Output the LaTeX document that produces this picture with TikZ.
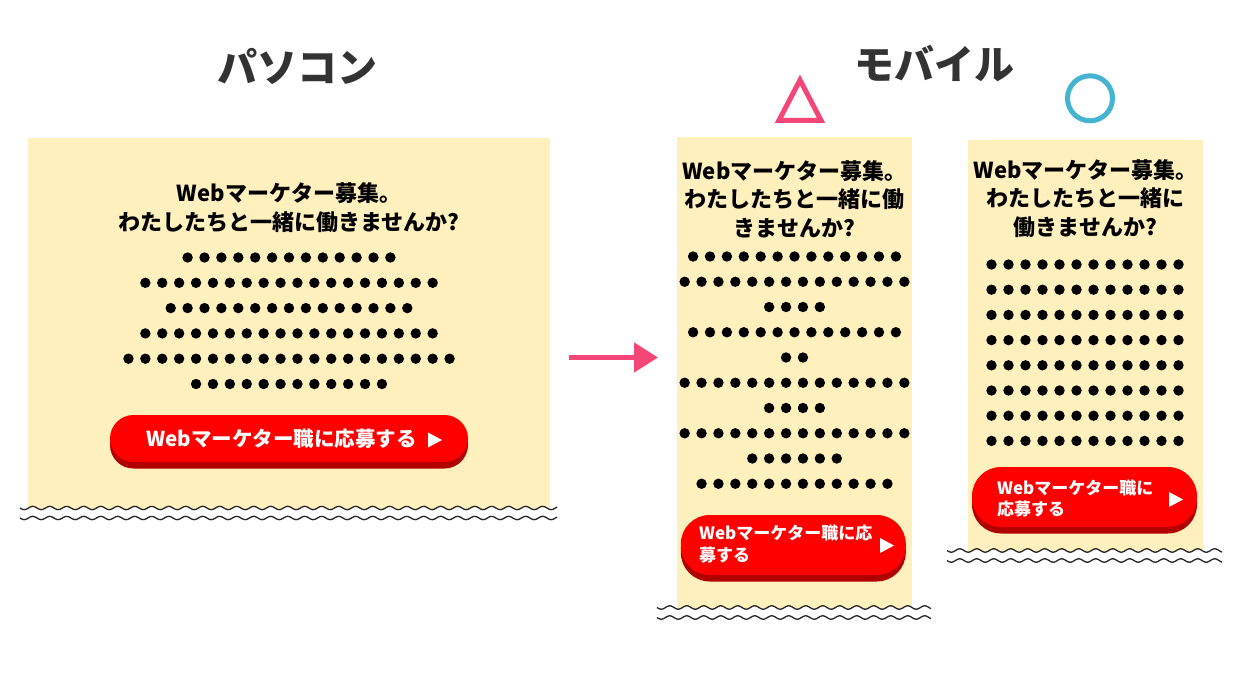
\documentclass[tikz,border=0pt]{standalone}
\usepackage{fontspec}
\setmainfont{Noto Sans CJK JP}
\usetikzlibrary{shadows,arrows.meta}
\definecolor{panel}{HTML}{FFF0BE}
\definecolor{btnred}{HTML}{FF0000}
\definecolor{btnshadow}{HTML}{B00000}
\definecolor{markpink}{HTML}{F54678}
\definecolor{markblue}{HTML}{45B4D0}
\definecolor{titlegray}{HTML}{333333}
\newcommand\wavecut[3]{%
  \fill[white] plot[domain=#1:#2, samples=260, smooth] (\x, {#3+1.7*sin((\x-#1)*21.18)}) -- (#2,{#3+22}) -- (#1,{#3+22}) -- cycle;
  \draw[wavy] plot[domain=#1:#2, samples=260, smooth] (\x, {#3+1.7*sin((\x-#1)*21.18)});
  \draw[wavy] plot[domain=#1:#2, samples=260, smooth] (\x, {#3+10+1.7*sin((\x-#1)*21.18)});
}
\begin{document}
\begin{tikzpicture}[x=1pt,y=-1pt,
  panelbox/.style={fill=panel, draw=none, inner sep=0, minimum width=#1},
  bigtitle/.style={font=\fontsize{40}{40}\selectfont\bfseries, text=titlegray, inner sep=0},
  head/.style={font=\fontsize{22}{28.5}\selectfont\bfseries, align=center, inner sep=0, text=black},
  btn/.style={fill=btnred, inner sep=0, rounded corners=#1,
     drop shadow={shadow xshift=0pt, shadow yshift=-6.5pt, opacity=1, fill=btnshadow}},
  btntext/.style={font=\fontsize{17}{21.5}\selectfont\bfseries, text=white, align=left, inner sep=0},
  btnbig/.style={font=\fontsize{20.5}{24}\selectfont\bfseries, text=white, inner sep=0},
  wavy/.style={draw=black!85, line width=1.3pt},
  dot/.style={fill=black}
]
\useasboundingbox[fill=white] (0,0) rectangle (1242,677);

% titles
\node[bigtitle] (pcTitle) at (297,66) {パソコン};
\node[bigtitle] (mbTitle) at (934,64) {モバイル};

% marks
\draw[markpink, line width=5pt, line join=miter] (779,120.3) -- (800,80) -- (821,120.3) -- cycle;
\draw[markblue, line width=5pt] (1090,98.3) circle[radius=22.5pt];

% panels
\node[panelbox=522pt, minimum height=376pt] (pcPanel) at (289,326) {};
\node[panelbox=235pt, minimum height=474pt] (m1Panel) at (794.5,374) {};
\node[panelbox=235pt, minimum height=414pt] (m2Panel) at (1085.5,347) {};

% arrow
\coordinate (arS) at (569,357.5);
\coordinate (arE) at (658,357.5);
\draw[markpink, line width=5pt, -{Triangle[length=24pt,width=29pt]}] (arS) -- (arE);

% headings
\node[head] (pcHead) at (289,207.5) {Webマーケター募集。\\わたしたちと一緒に働きませんか?};
\node[head] (m1Head) at (794.5,199) {Webマーケター募集。\\わたしたちと一緒に働\\きませんか?};
\node[head] (m2Head) at (1085.5,198.5) {Webマーケター募集。\\わたしたちと一緒に\\働きませんか?};

% dots PC
\foreach \n/\y in {13/257.5, 18/282.8, 15/308.1, 18/333.4, 20/358.7, 12/384} {
  \foreach \i in {1,...,\n} \fill[dot] ({289+(\i-(\n+1)/2)*16.9}, \y) circle[radius=5.2pt];
}
% dots mobile 1
\foreach \n/\y in {13/256.5, 14/281.75, 4/307, 13/332.25, 2/357.5, 14/382.75, 4/408, 14/433.25, 6/458.5, 12/483.75} {
  \foreach \i in {1,...,\n} \fill[dot] ({794.5+(\i-(\n+1)/2)*16.9}, \y) circle[radius=5.2pt];
}
% dots mobile 2
\foreach \y in {264.5, 289.7, 314.9, 340.1, 365.3, 390.5, 415.7, 440.9} {
  \foreach \i in {1,...,12} \fill[dot] ({1085+(\i-6.5)*17}, \y) circle[radius=5.2pt];
}

% buttons
\node[btn=23.5pt, minimum width=358pt, minimum height=47pt] (pcBtn) at (289,438.5) {};
\node[btnbig] (pcBtnText) at (281.5,439) {Webマーケター職に応募する};
\fill[white, shift={(435,440)}] (-7,-7.5) -- (7,0) -- (-7,7.5) -- cycle;

\node[btn=29pt, minimum width=225pt, minimum height=60pt] (m1Btn) at (793.3,545) {};
\node[btntext, anchor=west] (m1BtnText) at (699,544) {Webマーケター職に応\\募する};
\fill[white, shift={(887,545.5)}] (-7,-7.5) -- (7,0) -- (-7,7.5) -- cycle;

\node[btn=29pt, minimum width=225pt, minimum height=60pt] (m2Btn) at (1084.5,497) {};
\node[btntext, anchor=west] (m2BtnText) at (997,498.5) {Webマーケター職に\\応募する};
\fill[white, shift={(1176,499.5)}] (-7,-7.5) -- (7,0) -- (-7,7.5) -- cycle;

% torn edges
\wavecut{20}{557}{508}
\wavecut{657}{931}{607.5}
\wavecut{947}{1222}{550.5}
\end{tikzpicture}
\end{document}
